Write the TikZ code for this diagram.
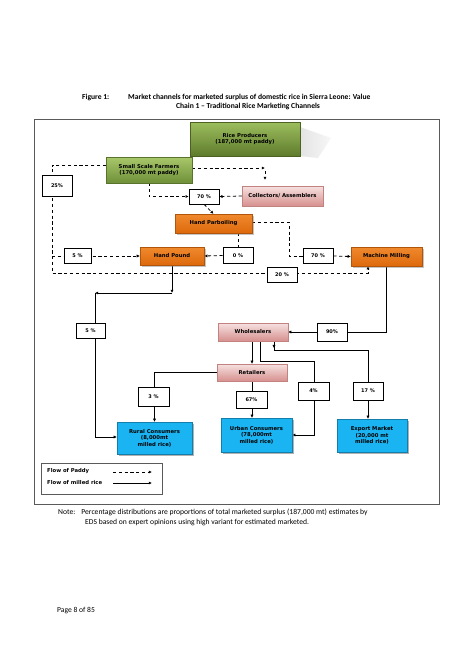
\documentclass[tikz,border=0pt]{standalone}
\usepackage{fontspec}
\setmainfont{Carlito}
\newfontfamily\lbl{DejaVu Sans}
\usetikzlibrary{arrows.meta,shadows,calc}
\pgfdeclarelayer{bg}
\pgfdeclarelayer{paper}
\pgfsetlayers{paper,bg,main}
\definecolor{frameC}{HTML}{5A5A5A}
\definecolor{grA}{HTML}{9DBE5E}
\definecolor{grB}{HTML}{5E7B2C}
\definecolor{grC}{HTML}{A9C76B}
\definecolor{grD}{HTML}{6F9038}
\definecolor{pkA}{HTML}{F6E2E1}
\definecolor{pkB}{HTML}{D6908E}
\definecolor{orA}{HTML}{F0892E}
\definecolor{orB}{HTML}{DD6A0C}
\definecolor{blA}{HTML}{1BB4F2}
\tikzset{
  base/.style={inner sep=1pt, align=center, font=\lbl\bfseries\fontsize{5.3}{6.4}\selectfont},
  pct/.style={base, draw=black, line width=0.6pt, fill=white, minimum width=30pt, minimum height=15pt, font=\lbl\bfseries\fontsize{5}{6}\selectfont},
  greenbox/.style={base, top color=grA, bottom color=grB, draw=grB!80!black, line width=0.3pt},
  greenbox2/.style={base, top color=grC, bottom color=grD, draw=grD!80!black, line width=0.3pt},
  pinkbox/.style={base, top color=pkA, bottom color=pkB, draw=pkB!90!black, line width=0.3pt,
     drop shadow={shadow xshift=1.2pt, shadow yshift=-1.2pt, opacity=0.35}},
  orangebox/.style={base, top color=orA, bottom color=orB, draw=orB!80!black, line width=0.3pt,
     drop shadow={shadow xshift=1.5pt, shadow yshift=-1.5pt, opacity=0.45}},
  bluebox/.style={base, fill=blA, draw=blA!70!black, line width=0.3pt,
     drop shadow={shadow xshift=1.5pt, shadow yshift=-1.5pt, opacity=0.6}},
  paddy/.style={line width=0.8pt, dash pattern=on 3.2pt off 2.6pt, -{Latex[length=3.2pt,width=3.2pt]}},
  paddyline/.style={line width=0.8pt, dash pattern=on 3.2pt off 2.6pt},
  milled/.style={line width=0.8pt, -{Latex[length=3.2pt,width=3.2pt]}},
  milledline/.style={line width=0.8pt},
  capt/.style={inner sep=0pt, anchor=base west, font=\fontsize{7.6}{9}\selectfont}
}
\begin{document}
\begin{tikzpicture}[x=1pt,y=-1pt]
\useasboundingbox (0,0) rectangle (474,670);
\begin{pgfonlayer}{paper}
\fill[white] (0,0) rectangle (474,670);
\end{pgfonlayer}
% caption
\node[capt, font=\bfseries\fontsize{7.6}{9}\selectfont] (figno) at (82,99) {Figure 1:};
\node[capt, font=\bfseries\fontsize{7.6}{9}\selectfont] (title1) at (128,99) {Market channels for marketed surplus of domestic rice in Sierra Leone: Value};
\node[capt, anchor=base, font=\bfseries\fontsize{7.6}{9}\selectfont] (title2) at (248,108.5) {Chain 1 -- Traditional Rice Marketing Channels};
% frame
\draw[frameC, line width=1pt] (34,119) rectangle (439,504);
% perspective shadow of producers
\shade[left color=gray!22, right color=gray!6] (300,127) -- (331,138) -- (318,158) -- (300,156) -- cycle;
% nodes
\node[greenbox, minimum width=110pt, minimum height=34pt] (prod) at (245,139) {Rice Producers\\(187,000 mt paddy)};
\node[greenbox2, minimum width=86pt, minimum height=26pt] (ssf) at (149,170) {Small Scale Farmers\\(170,000 mt paddy)};
\node[pct, minimum width=30pt, minimum height=21pt] (p25) at (57,185.5) {25\%};
\node[pinkbox, minimum width=81pt, minimum height=20pt] (coll) at (282.5,196) {Collectors/ Assemblers};
\node[pct] (p70a) at (204,196.5) {70 \%};
\node[orangebox, minimum width=77pt, minimum height=19pt] (hpar) at (213.5,223.5) {Hand Parboiling};
\node[pct, minimum width=27pt] (p5a) at (77.5,256) {5 \%};
\node[orangebox, minimum width=64pt, minimum height=18pt] (hpound) at (172,256) {Hand Pound};
\node[pct, minimum height=16pt] (p0) at (238,255.5) {0 \%};
\node[pct] (p70b) at (318,256) {70 \%};
\node[orangebox, minimum width=71pt, minimum height=19pt] (mmill) at (386.5,256.5) {Machine Milling};
\node[pct] (p20) at (282,274.5) {20 \%};
\node[pct, minimum width=29pt] (p5b) at (90.5,330.5) {5 \%};
\node[pinkbox, minimum width=70pt, minimum height=18pt] (whole) at (253,332) {Wholesalers};
\node[pct, minimum height=18pt] (p90) at (332,332) {90\%};
\node[pinkbox, minimum width=70pt, minimum height=17pt] (ret) at (252,372.5) {Retailers};
\node[pct, minimum width=31pt, minimum height=19pt] (p3) at (153.5,396.5) {3 \%};
\node[pct, minimum width=31pt, minimum height=17pt] (p67) at (251.5,399.5) {67\%};
\node[pct, minimum width=31pt, minimum height=18pt] (p4) at (313.5,391) {4\%};
\node[pct, minimum width=30pt, minimum height=18pt] (p17) at (368,391) {17 \%};
\node[bluebox, minimum width=75pt, minimum height=32pt] (rural) at (154.5,438) {Rural Consumers\\(8,000mt\\milled rice)};
\node[bluebox, minimum width=71pt, minimum height=34pt] (urban) at (256.5,435) {Urban Consumers\\(78,000mt\\milled rice)};
\node[bluebox, minimum width=70pt, minimum height=33pt] (export) at (372,435.5) {Export Market\\(20,000 mt\\milled rice)};
% legend
\node[draw=frameC, line width=0.8pt, minimum width=121pt, minimum height=31pt, inner sep=0pt] (legend) at (101.5,478.5) {};
\node[base, anchor=west] (lg1) at (46,471.5) {Flow of Paddy};
\node[base, anchor=west] (lg2) at (46,483) {Flow of milled rice};
\coordinate (lga) at (113,472);
\coordinate (lgb) at (152,472);
\coordinate (lgc) at (113,483);
\coordinate (lgd) at (152,483);
\begin{pgfonlayer}{bg}
% paddy flows
\draw[paddy] ([yshift=5pt]ssf.west) -- (52,165) -- (52,273) -- (368,273) -- ([xshift=-18.5pt]mmill.south);
\draw[paddy] (52,256) -- (hpound.west);
\draw[paddy] ([yshift=2pt]ssf.east) -- (265,168);
\draw[paddy] (265,171) -- (265,180);
\draw[paddy] (ssf.south) |- (p70a.west);
\draw[paddy] (coll.west) -- (p70a.east);
\draw[paddy] (p70a.south) -- (hpar.north);
\draw[paddyline] ([yshift=1.5pt]hpar.east) -| (289,256) -- (p70b.west);
\draw[paddy] (p70b.east) -- (mmill.west);
\draw[paddyline] ([xshift=24.5pt]hpar.south) -- (p0.north);
\draw[paddy] (p0.west) -- (hpound.east);
% milled flows
\draw[milled] (hpound.south) -- (172,293);
\draw[milled] (172,293) -- (95,293);
\draw[milled] (95,293) |- ([yshift=1pt]rural.west);
\draw[milled] (mmill.south) |- (whole.east);
\draw[milled] ([xshift=-1pt]whole.south) -- (ret.north);
\draw[milled] ([xshift=7pt]whole.south) |- (314,361) |- (urban.east);
\draw[milled] ([xshift=21pt]whole.south) -- ++(0,7);
\coordinate (e1) at (368,350);
\draw[milledline] ([xshift=21pt]whole.south) |- (e1);
\draw[milled] (e1) -- (e1 |- export.north);
\draw[milled] (ret.west) -| (rural.north);
\draw[milled] (ret.south) -- (ret.south |- urban.north);
\end{pgfonlayer}
\draw[paddy] (lga) -- (lgb);
\draw[milled] (lgc) -- (lgd);
% note
\node[capt] (note1) at (58,514.5) {Note:\hspace{6pt}Percentage distributions are proportions of total marketed surplus (187,000 mt) estimates by};
\node[capt] (note2) at (85,524.5) {EDS based on expert opinions using high variant for estimated marketed.};
\node[capt] (page) at (57,612) {Page 8 of 85};
\end{tikzpicture}
\end{document}
